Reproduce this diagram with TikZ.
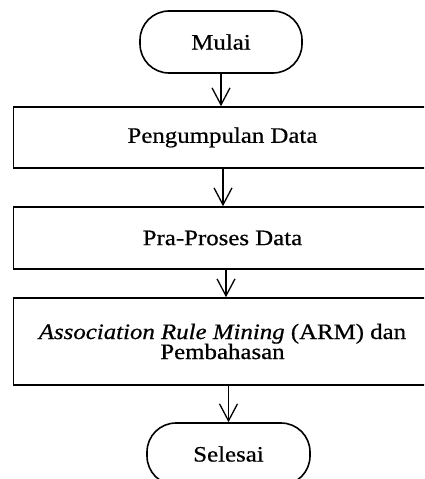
\documentclass[tikz,border=0pt]{standalone}
\usepackage{fontspec}
\setmainfont{Liberation Serif}[FakeStretch=1.13,FakeBold=0.6]
\usetikzlibrary{arrows.meta,calc}
\begin{document}
\begin{tikzpicture}[x=1pt,y=-1pt,
  every node/.style={font=\fontsize{22}{20}\selectfont, line width=1.6pt},
  term/.style={draw, rounded corners=29pt, minimum width=162pt, minimum height=62pt, inner sep=0pt},
  procbox/.style={draw, minimum width=418pt, inner sep=0pt, align=center},
  flow/.style={line width=1.3pt, -{Straight Barb[length=17pt,width=18pt,line width=1.3pt]}}]
\useasboundingbox (0,0) rectangle (424,479);
\clip (0,0) rectangle (424,479);
\node[term] (mulai) at (221,42) {Mulai};
\node[procbox, minimum height=61pt] (b1) at (222.5,137.5) {Pengumpulan Data};
\node[procbox, minimum height=62pt] (b2) at (222.5,238) {Pra-Proses Data};
\node[procbox, minimum height=87pt] (b3) at (222.5,341.5) {\textit{Association Rule Mining} (ARM) dan\\Pembahasan};
\node[term, minimum width=163pt] (selesai) at (228.5,454) {Selesai};
\draw[flow] (mulai.south) -- (mulai.south |- b1.north);
\draw[flow] ([xshift=0.5pt]b1.south) -- ([xshift=0.5pt]b2.north);
\draw[flow] ([xshift=3.5pt]b2.south) -- ([xshift=3.5pt]b3.north);
\draw[flow] (b3.south -| selesai.north) -- (selesai.north);
\end{tikzpicture}
\end{document}
